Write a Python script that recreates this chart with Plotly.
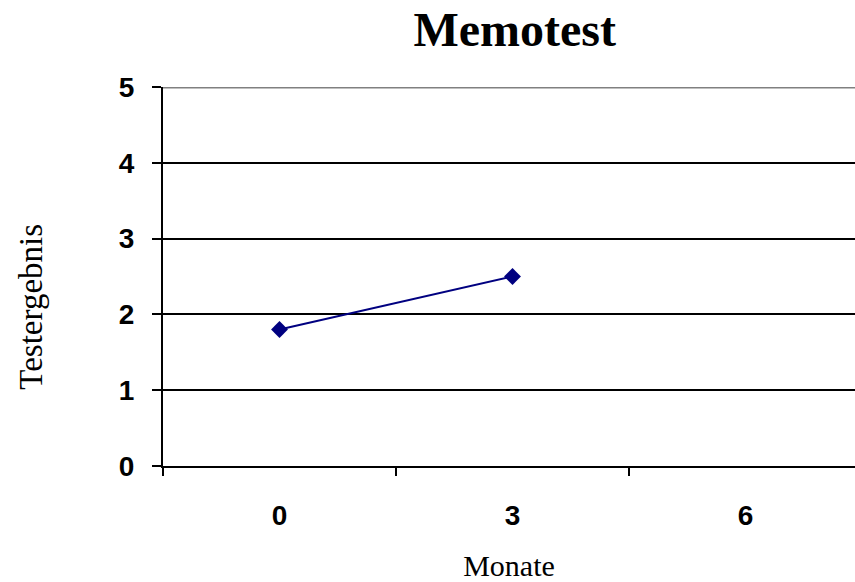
import plotly.graph_objects as go

# Memotest results over months
months = ["0", "3", "6"]
scores = [1.8, 2.5, None]
y_ticks = [0, 1, 2, 3, 4, 5]

navy = "#000080"

fig = go.Figure()
fig.add_trace(go.Scatter(
    x=months, y=scores, mode="lines+markers",
    line=dict(color=navy, width=2),
    marker=dict(symbol="diamond", size=13, color=navy),
    connectgaps=False, showlegend=False, cliponaxis=False,
))

fig.update_layout(
    width=855, height=582,
    margin=dict(l=163, r=0, t=87, b=116),
    paper_bgcolor="white", plot_bgcolor="white",
    title=dict(text="<b>Memotest</b>", x=0.602, xanchor="center",
               y=1 - 29 / 582, yanchor="middle",
               font=dict(family="Liberation Serif", size=48, color="black")),
    xaxis=dict(
        type="category", categoryorder="array", categoryarray=months,
        range=[-0.5, 2.47], tickson="boundaries",
        ticks="outside", ticklen=8, tickwidth=2, tickcolor="black",
        showline=True, linecolor="black", linewidth=2,
        showgrid=False, zeroline=False,
        ticklabelstandoff=23,
        tickfont=dict(family="Liberation Sans", size=28, color="black", weight="bold"),
        title=dict(text="Monate", standoff=28,
                   font=dict(family="Liberation Serif", size=30, color="black")),
    ),
    yaxis=dict(
        range=[0, 5], tickvals=y_ticks,
        ticks="outside", ticklen=9, tickwidth=2, tickcolor="black",
        showline=True, linecolor="black", linewidth=2,
        showgrid=True, gridcolor="black", gridwidth=2,
        zeroline=False, ticklabelstandoff=12,
        tickfont=dict(family="Liberation Sans", size=28, color="black", weight="bold"),
    ),
    annotations=[dict(text="Testergebnis", textangle=-90, showarrow=False,
                      xref="paper", yref="paper", x=-0.191, y=0.42,
                      xanchor="center", yanchor="middle",
                      font=dict(family="Liberation Serif", size=33, color="black"))],
    shapes=[dict(type="line", xref="paper", yref="y", x0=0, x1=1, y0=5, y1=5,
                 line=dict(color="#808080", width=3), layer="above")],
)

fig.write_html("out.html")
